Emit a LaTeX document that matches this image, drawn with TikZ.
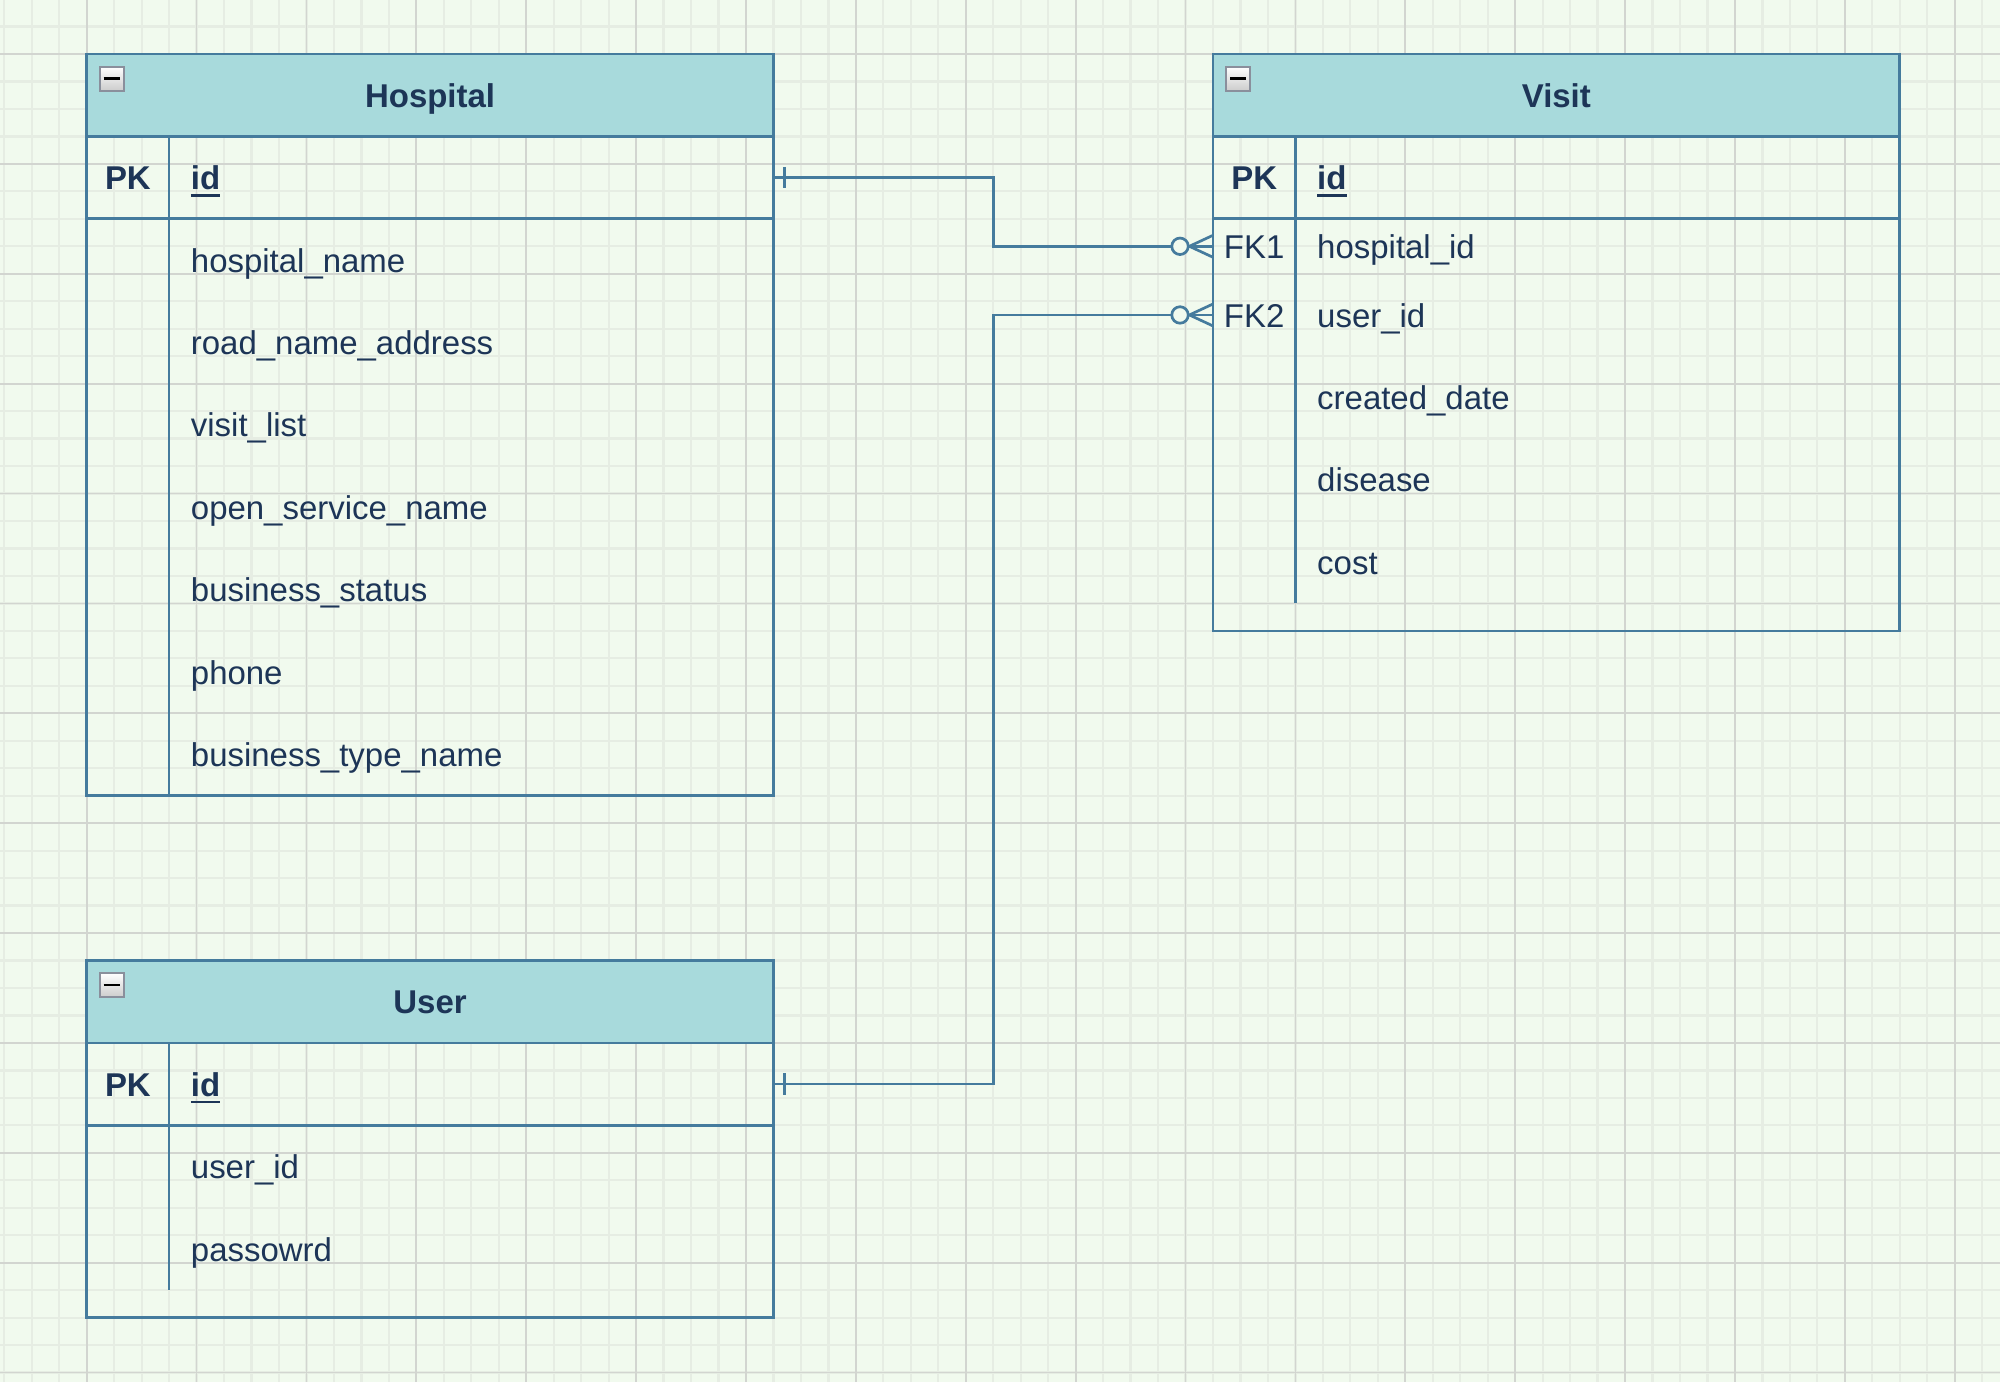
\documentclass[tikz,border=0pt]{standalone}
\usepackage{fontspec}
\setmainfont{Liberation Sans}
\usetikzlibrary{calc}
\definecolor{bg}{HTML}{F1FAEE}
\definecolor{hdr}{HTML}{A8DADC}
\definecolor{ln}{HTML}{457B9D}
\definecolor{tx}{HTML}{1D3557}
\definecolor{gminor}{HTML}{E6EDE3}
\definecolor{gmajor}{HTML}{D2D5D0}
\definecolor{icb}{HTML}{8A8F9C}
\newcommand\ulid[1]{\setbox0\hbox{#1}\rlap{\rule[-3.4pt]{\wd0}{1.25pt}}\box0}
\def\U{1.3735pt}
\tikzset{
  hdrbox/.style={draw=ln, fill=hdr, line width=1.35pt, anchor=north west,
    minimum width=250*\U, minimum height=30*\U, inner sep=0pt, outer sep=0pt,
    text=tx, text height=12.1pt, text depth=0pt,
    font=\fontsize{16.48pt}{19.8pt}\selectfont\bfseries},
  rowbox/.style={anchor=north west, minimum width=250*\U, inner sep=0pt, outer sep=0pt},
  keytxt/.style={text=tx, inner sep=0pt, text height=12.1pt, text depth=0pt,
    font=\fontsize{16.48pt}{19.8pt}\selectfont\bfseries},
  fktxt/.style={text=tx, inner sep=0pt, text height=12.1pt, text depth=0pt,
    font=\fontsize{16.48pt}{19.8pt}\selectfont},
  fieldtxt/.style={text=tx, inner sep=0pt, text height=12.1pt, text depth=0pt,
    anchor=west, font=\fontsize{16.48pt}{19.8pt}\selectfont},
  tbl/.style={draw=ln, line width=1.35pt},
  conn/.style={draw=ln, line width=1.35pt},
  collapse/.style={draw=icb, line width=0.9pt, minimum width=8.8*\U,
    minimum height=8.8*\U, inner sep=0pt, top color=white, bottom color=gray!40},
}
\begin{document}
\begin{tikzpicture}[x=1.3735pt, y=-1.3735pt]
% background and grid
\fill[bg] (-31.56,-19.66) rectangle (696.5,483.4);
\useasboundingbox (-31.56,-19.66) rectangle (696.5,483.4);
\foreach \i in {-30,-20,...,690} \draw[gminor, line width=1.1pt] (\i,-19.66) -- (\i,483.4);
\foreach \j in {-10,0,...,480} \draw[gminor, line width=1.1pt] (-31.56,\j) -- (696.5,\j);
\foreach \i in {0,40,...,680} \draw[gmajor, line width=0.9pt] (\i,-19.66) -- (\i,483.4);
\foreach \j in {0,40,...,480} \draw[gmajor, line width=0.9pt] (-31.56,\j) -- (696.5,\j);

% ---------- Hospital ----------
\draw[tbl] (0,0) rectangle (250,270);
\node[hdrbox] (hosp) at (0,0) {Hospital};
\node[collapse] (hospcol) at (9.1,9) {};
\draw[black, line width=1.25pt] ([xshift=2.5pt]hospcol.west) -- ([xshift=-2.5pt]hospcol.east);
\node[rowbox, draw=ln, line width=1.35pt, minimum height=30*\U] (hpk) at (0,30) {};
\draw[tbl] (30,30) -- (30,270);
\node[keytxt] (hpkk) at (15,45) {PK};
\node[fieldtxt, font=\fontsize{16.48pt}{19.8pt}\selectfont\bfseries] (hpkf) at (37.8,45) {\ulid{id}};
\foreach \t [count=\k] in {hospital\_name, road\_name\_address, visit\_list, open\_service\_name, business\_status, phone, business\_type\_name}
  \node[fieldtxt] (hf\k) at (37.8,45+30*\k) {\t};

% ---------- Visit ----------
\draw[tbl] (410,0) rectangle (660,210);
\node[hdrbox] (visit) at (410,0) {Visit};
\node[collapse] (viscol) at (419.1,9) {};
\draw[black, line width=1.25pt] ([xshift=2.5pt]viscol.west) -- ([xshift=-2.5pt]viscol.east);
\node[rowbox, draw=ln, line width=1.35pt, minimum height=30*\U] (vpk) at (410,30) {};
\draw[tbl] (440,30) -- (440,200);
\node[keytxt] (vpkk) at (425,45) {PK};
\node[fieldtxt, font=\fontsize{16.48pt}{19.8pt}\selectfont\bfseries] (vpkf) at (447.8,45) {\ulid{id}};
\node[rowbox, minimum height=20*\U] (vfk1) at (410,60) {};
\node[rowbox, minimum height=30*\U] (vfk2) at (410,80) {};
\node[fktxt] (vfk1k) at (425,70) {FK1};
\node[fieldtxt] (vfk1f) at (447.8,70) {hospital\_id};
\node[fktxt] (vfk2k) at (425,95) {FK2};
\node[fieldtxt] (vfk2f) at (447.8,95) {user\_id};
\node[fieldtxt] (vf3) at (447.8,125) {created\_date};
\node[fieldtxt] (vf4) at (447.8,155) {disease};
\node[fieldtxt] (vf5) at (447.8,185) {cost};

% ---------- User ----------
\draw[tbl] (0,330) rectangle (250,460);
\node[hdrbox] (user) at (0,330) {User};
\node[collapse] (usercol) at (9.1,339) {};
\draw[black, line width=1.25pt] ([xshift=2.5pt]usercol.west) -- ([xshift=-2.5pt]usercol.east);
\node[rowbox, draw=ln, line width=1.35pt, minimum height=30*\U] (upk) at (0,360) {};
\draw[tbl] (30,360) -- (30,450);
\node[keytxt] (upkk) at (15,375) {PK};
\node[fieldtxt, font=\fontsize{16.48pt}{19.8pt}\selectfont\bfseries] (upkf) at (37.8,375) {\ulid{id}};
\node[fieldtxt] (uf1) at (37.8,405) {user\_id};
\node[fieldtxt] (uf2) at (37.8,435) {passowrd};

% ---------- Connectors ----------
\draw[conn] (hpk.east) -| ($(hpk.east)!.5!(vfk1.west)$) |- (vfk1.west);
\draw[conn] (upk.east) -| ($(upk.east)!.5!(vfk2.west)$) |- (vfk2.west);
% one marks
\draw[conn] ($(hpk.east)+(4,-3.9)$) -- ($(hpk.east)+(4,3.9)$);
\draw[conn] ($(upk.east)+(4,-3.9)$) -- ($(upk.east)+(4,3.9)$);
% zero-or-many marks
\foreach \n in {vfk1, vfk2} {
  \draw[conn] ($(\n.west)+(-8.6,0)$) -- ($(\n.west)+(0,-4)$);
  \draw[conn] ($(\n.west)+(-8.6,0)$) -- ($(\n.west)+(0,4)$);
  \draw[conn, fill=bg] ($(\n.west)+(-12,0)$) circle[radius=3];
}
\end{tikzpicture}
\end{document}
